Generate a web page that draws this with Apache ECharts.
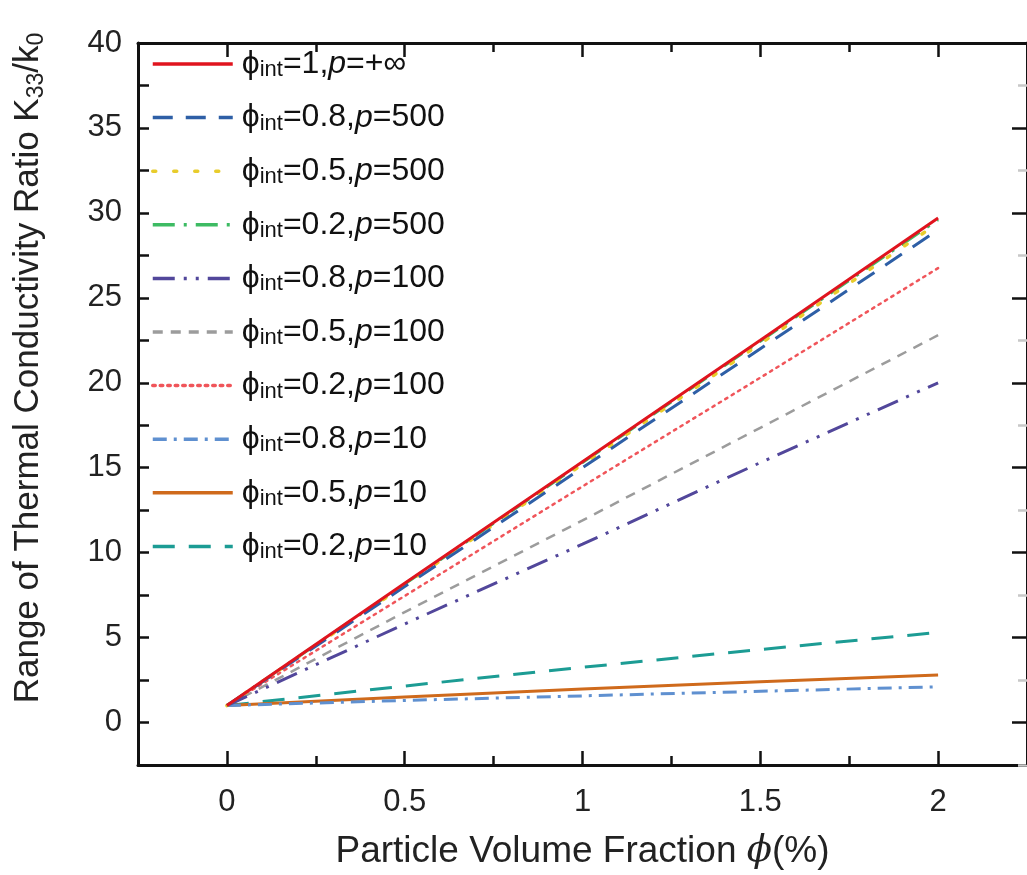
<!DOCTYPE html>
<html><head><meta charset="utf-8">
<script src="https://cdn.jsdelivr.net/npm/echarts@6/dist/echarts.min.js"></script>
<style>html,body{margin:0;padding:0;background:#fff}#c{width:1027px;height:875px}</style>
</head><body><div id="c"></div>
<script>
// Data
const xValues = [0, 0.5, 1, 1.5, 2];
const seriesNames = ['1,+∞','0.8,500','0.5,500','0.2,500','0.8,100','0.5,100','0.2,100','0.8,10','0.5,10','0.2,10'];
const phiInt = ['1','0.8','0.5','0.2','0.8','0.5','0.2','0.8','0.5','0.2'];
const pValues = ['+∞','500','500','500','100','100','100','10','10','10'];
const s_inf = [1, 8.2, 15.35, 22.5, 29.7];
const s_08_500 = [1, 8.0, 15.0, 22.0, 29.0];
const s_05_500 = [1, 8.1, 15.2, 22.3, 29.4];
const s_02_500 = [1, 8.15, 15.3, 22.45, 29.6];
const s_08_100 = [1, 5.8, 10.5, 15.3, 20.0];
const s_05_100 = [1, 6.5, 11.9, 17.35, 22.8];
const s_02_100 = [1, 7.45, 13.9, 20.3, 26.75];
const s_08_10 = [1, 1.3, 1.57, 1.84, 2.1];
const s_05_10 = [1, 1.5, 1.97, 2.4, 2.8];
const s_02_10 = [1, 2.15, 3.25, 4.3, 5.3];
const yTicks = [0, 5, 10, 15, 20, 25, 30, 35, 40];
const yMinorTicks = [-2.5, 2.5, 7.5, 12.5, 17.5, 22.5, 27.5, 32.5, 37.5];
const xTicks = [0, 0.5, 1, 1.5, 2];
const xMinorTicks = [-0.25, 0.25, 0.75, 1.25, 1.75, 2.25];

const allData = [s_inf, s_08_500, s_05_500, s_02_500, s_08_100, s_05_100, s_02_100, s_08_10, s_05_10, s_02_10];
const styles = [
  {color:'#e0141e', type:'solid', width:3},
  {color:'#2e5fa6', type:[20,13], width:3},
  {color:'#e8cc2c', type:[3,18], width:3.5, cap:'round'},
  {color:'#3dbb63', type:[22,9,3,9], width:3},
  {color:'#52479b', type:[22,9,3,9,3,9], width:3},
  {color:'#9c9c9c', type:[10,8], width:2.5},
  {color:'#f0555a', type:[2.5,5], width:2.5, cap:'round'},
  {color:'#5f90d0', type:[14,7,3,7], width:3},
  {color:'#cf6a1c', type:'solid', width:3},
  {color:'#1c9c94', type:[22,14], width:3}
];

const chart = echarts.init(document.getElementById('c'));
const font = 'Liberation Sans, Arial, sans-serif';
const series = allData.map((d, i) => ({
  name: seriesNames[i],
  type: 'line',
  xAxisIndex: 0, yAxisIndex: 0,
  data: d.map((v, j) => [xValues[j], v]),
  showSymbol: false,
  symbol: 'none',
  lineStyle: {color: styles[i].color, type: styles[i].type, width: styles[i].width, cap: styles[i].cap || 'butt'},
  itemStyle: {color: styles[i].color},
  z: 10 - i
}));

const line = {show: true, onZero: false, lineStyle: {color: '#111', width: 3}};
function tick(vals, len, color) {
  return {show: true, inside: true, length: len, customValues: vals, lineStyle: {color: color || '#111', width: 2.5}};
}
function xAx(pos, vals, len, showLine, labels) {
  return {
    type: 'value', position: pos, min: -0.25, max: 2.25,
    axisLine: showLine ? line : {show: false, onZero: false},
    axisTick: tick(vals, len),
    axisLabel: labels ? {show: true, fontSize: 31, fontFamily: font, color: '#222', margin: 22, customValues: xTicks} : {show: false},
    splitLine: {show: false}, minorTick: {show: false}
  };
}
function yAx(pos, vals, len, showLine, labels, color) {
  return {
    type: 'value', position: pos, min: -2.5, max: 40,
    axisLine: showLine ? line : {show: false, onZero: false},
    axisTick: tick(vals, len, color),
    axisLabel: labels ? {show: true, fontSize: 31, fontFamily: font, color: '#222', margin: 16, customValues: yTicks} : {show: false},
    splitLine: {show: false}, minorTick: {show: false}
  };
}

const xBottom = xAx('bottom', xTicks, 14, true, true);
xBottom.name = '{a|Particle Volume Fraction }{i|ϕ}{a|(%)}';
xBottom.nameLocation = 'middle';
xBottom.nameGap = 68;
xBottom.nameTextStyle = {rich: {a: {fontSize: 37, fontFamily: font, color: '#222'}, i: {fontSize: 37, fontFamily: 'DejaVu Serif, serif', fontStyle: 'italic', color: '#222'}}};

const yLeft = yAx('left', yTicks.concat(yMinorTicks), 11, true, true);
yLeft.name = '{a|Range of Thermal Conductivity Ratio K}{s|33}{a|/k}{s|0}';
yLeft.nameLocation = 'middle';
yLeft.nameGap = 90;
yLeft.nameRotate = 90;
yLeft.nameTextStyle = {padding: [0, 0, 0, 72], rich: {
  a: {fontSize: 35, fontFamily: font, color: '#222', lineHeight: 40},
  s: {fontSize: 23, fontFamily: font, color: '#222', lineHeight: 24, verticalAlign: 'bottom'}
}};

chart.setOption({
  backgroundColor: '#fff',
  animation: false,
  grid: {left: 138, top: 43, width: 895, height: 722, containLabel: false},
  legend: {
    orient: 'vertical', left: 146, top: 43,
    itemWidth: 80, itemHeight: 14, itemGap: 20.6,
    data: seriesNames,
    itemStyle: {opacity: 0},
    lineStyle: {width: 3.5},
    formatter: function (name) {
      const i = seriesNames.indexOf(name);
      return '{g| }{a|ϕ}{s|int}{a|=' + phiInt[i] + ',}{i|p}{a|=' + pValues[i] + '}';
    },
    textStyle: {
      fontFamily: font, color: '#111',
      rich: {
        g: {width: 4, fontSize: 10, lineHeight: 34},
        a: {fontSize: 32, fontFamily: font, color: '#111', lineHeight: 34},
        s: {fontSize: 22, fontFamily: font, color: '#111', lineHeight: 20, verticalAlign: 'bottom'},
        i: {fontSize: 32, fontFamily: font, fontStyle: 'italic', color: '#111', lineHeight: 34}
      }
    }
  },
  xAxis: [
    xBottom,
    xAx('top', xTicks, 14, true, false),
    xAx('bottom', xMinorTicks, 9, false, false),
    xAx('top', xMinorTicks, 9, false, false)
  ],
  yAxis: [
    yLeft,
    yAx('right', yTicks, 15, true, false),
    yAx('right', yMinorTicks, 9, false, false, '#c8c8c8')
  ],
  series: series
});
</script></body></html>
